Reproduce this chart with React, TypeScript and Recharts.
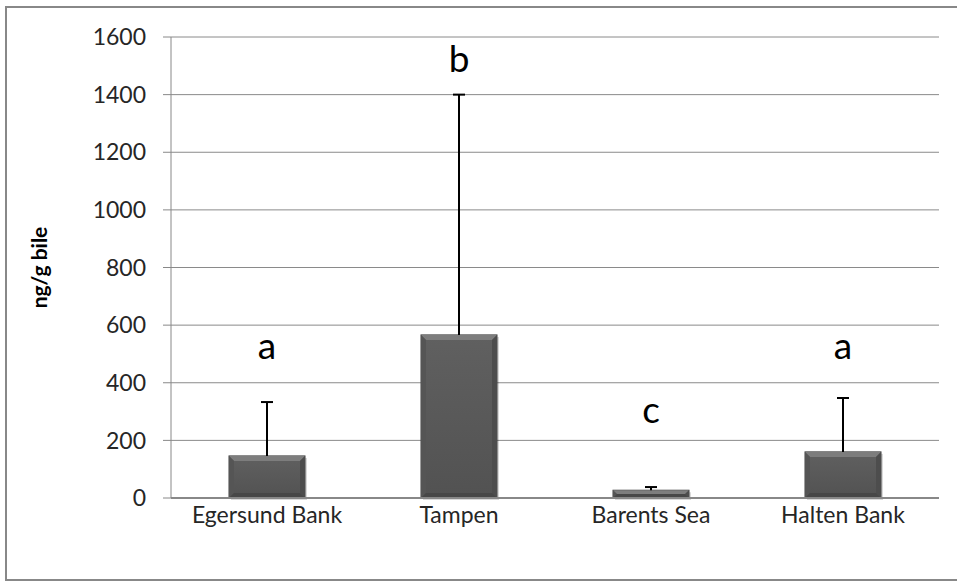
import React from 'react';
import { ComposedChart, Bar, XAxis, YAxis, CartesianGrid, Scatter } from 'recharts';

const sites = ['Egersund Bank', 'Tampen', 'Barents Sea', 'Halten Bank'];
const means = [146, 566, 27, 160];
const errHigh = [187, 834, 11, 187];
const letters = ['a', 'b', 'c', 'a'];
const letterPos = [532, 1528, 312, 532];
const yTicks = [0, 200, 400, 600, 800, 1000, 1200, 1400, 1600];

const data = sites.map((site, i) => ({
  site,
  mean: means[i],
  err: errHigh[i],
  letter: letters[i],
  letterY: letterPos[i],
}));

const FONT = 'Lato, "Open Sans", sans-serif';

// bevelled dark bar plus an upper-only error whisker (px per unit taken from the bar itself)
const BevelBar = (props: any) => {
  const { x, y, width, height, payload } = props;
  if (!height || height <= 0) return null;
  const b = Math.min(5, height / 2, width / 2);
  const pxPerUnit = height / payload.mean;
  const cx = x + width / 2;
  const yTop = y - payload.err * pxPerUnit;
  return (
    <g>
      <rect x={x + 2} y={y + 2} width={width} height={height} fill="#000" opacity={0.15} />
      <rect x={x} y={y} width={width} height={height} fill="url(#barFill)" stroke="#404040" strokeWidth={1} />
      <polygon points={`${x},${y} ${x + width},${y} ${x + width - b},${y + b} ${x + b},${y + b}`} fill="#7d7d7d" />
      <polygon points={`${x},${y} ${x + b},${y + b} ${x + b},${y + height - b} ${x},${y + height}`} fill="#555" />
      <polygon points={`${x + width},${y} ${x + width - b},${y + b} ${x + width - b},${y + height - b} ${x + width},${y + height}`} fill="#4d4d4d" />
      <polygon points={`${x},${y + height} ${x + b},${y + height - b} ${x + width - b},${y + height - b} ${x + width},${y + height}`} fill="#474747" />
      <line x1={cx} y1={y} x2={cx} y2={yTop} stroke="#000" strokeWidth={2} />
      <line x1={cx - 6} y1={yTop} x2={cx + 6} y2={yTop} stroke="#000" strokeWidth={2} />
    </g>
  );
};

const LetterMark = (props: any) => {
  const { cx, cy, payload } = props;
  return (
    <text x={cx} y={cy} textAnchor="middle" dominantBaseline="central" fontFamily={FONT} fontSize={37} fill="#000">
      {payload.letter}
    </text>
  );
};

export default function App() {
  return (
    <div style={{ position: 'absolute', left: 0, top: 0, width: 957, height: 584, background: '#fff', overflow: 'hidden' }}>
      <div
        style={{
          position: 'absolute',
          left: 5,
          top: 6,
          width: 952,
          height: 575,
          border: '2px solid #888',
          borderRight: 'none',
          boxSizing: 'border-box',
        }}
      />
      <ComposedChart
        width={957}
        height={584}
        data={data}
        margin={{ top: 37, right: 18, left: 0, bottom: 56 }}
        barSize={76}
        style={{ position: 'absolute', left: 0, top: 0 }}
      >
        <defs>
          <linearGradient id="barFill" x1="0" y1="0" x2="0" y2="1">
            <stop offset="0%" stopColor="#606060" />
            <stop offset="100%" stopColor="#525252" />
          </linearGradient>
        </defs>
        <CartesianGrid vertical={false} stroke="#8a8a8a" strokeWidth={1} />
        <XAxis
          dataKey="site"
          tickLine={false}
          tickSize={0}
          tickMargin={9}
          axisLine={{ stroke: '#888', strokeWidth: 2 }}
          tick={{ fontFamily: FONT, fontSize: 23, fill: '#262626' }}
        />
        <YAxis
          width={171}
          domain={[0, 1600]}
          ticks={yTicks}
          interval={0}
          tickSize={8}
          tickMargin={17}
          axisLine={{ stroke: '#888' }}
          tickLine={{ stroke: '#888' }}
          tick={{ fontFamily: FONT, fontSize: 23, fill: '#262626' }}
          label={{
            value: 'ng/g bile',
            angle: -90,
            position: 'insideLeft',
            offset: 40,
            style: { fontFamily: FONT, fontSize: 21, fontWeight: 'bold', fill: '#000', textAnchor: 'middle' },
          }}
        />
        <Bar dataKey="mean" shape={<BevelBar />} isAnimationActive={false} />
        <Scatter dataKey="letterY" shape={<LetterMark />} isAnimationActive={false} />
      </ComposedChart>
    </div>
  );
}
